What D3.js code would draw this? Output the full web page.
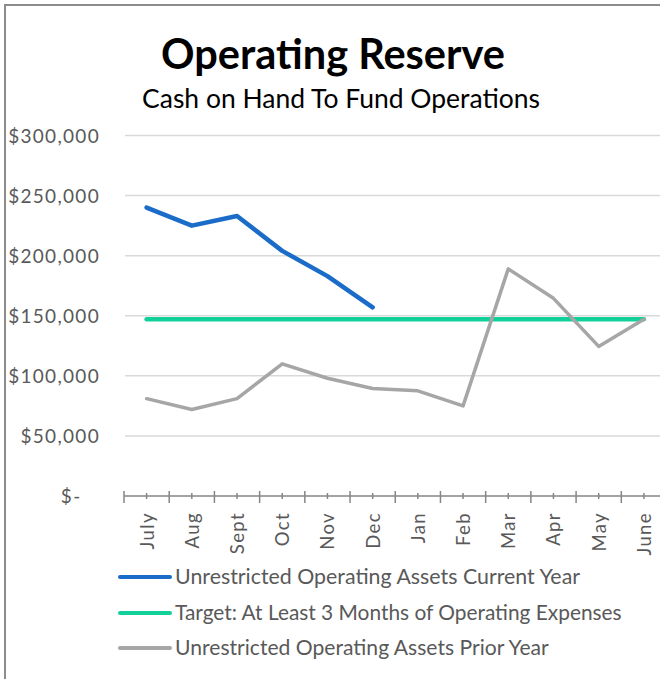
<!DOCTYPE html>
<html>
<head>
<meta charset="utf-8">
<script src="https://cdn.jsdelivr.net/npm/d3@7"></script>
<style>
  html, body { margin: 0; padding: 0; background: #fff; }
  svg { display: block; font-family: Lato, "Open Sans", sans-serif; }
</style>
</head>
<body>
<div id="chart"></div>
<script>
// Operating Reserve - monthly cash vs target

const months = ["July", "Aug", "Sept", "Oct", "Nov", "Dec", "Jan", "Feb", "Mar", "Apr", "May", "June"];
const currentYear = [240000, 225000, 233000, 204000, 183000, 157000];
const targetValues = [147000, 147000, 147000, 147000, 147000, 147000, 147000, 147000, 147000, 147000, 147000, 147000];
const priorYear = [81000, 72000, 81000, 110000, 98000, 89500, 87500, 75000, 189000, 164500, 124500, 147000];
const yTicks = [0, 50000, 100000, 150000, 200000, 250000, 300000];

const seriesNames = [
  "Unrestricted Operating Assets Current Year",
  "Target: At Least 3 Months of Operating Expenses",
  "Unrestricted Operating Assets Prior Year"
];
const seriesColors = ["#1a6cc8", "#12d09a", "#a6a6a6"];
const seriesWidths = [4.5, 4.5, 3.5];
const seriesData = [currentYear, targetValues, priorYear];

const W = 660, H = 679;
const svg = d3.select("#chart").append("svg")
  .attr("width", W)
  .attr("height", H);

// outer chart border (only top/left visible in the crop)
svg.append("rect")
  .attr("x", 5).attr("y", 5)
  .attr("width", 700).attr("height", 700)
  .attr("fill", "none")
  .attr("stroke", "#8c8c8c")
  .attr("stroke-width", 2);

// fit a text element to a given pixel width by adjusting its font size
function fitWidth(sel, target) {
  const node = sel.node();
  const size = parseFloat(sel.style("font-size"));
  const w = node.getComputedTextLength();
  sel.style("font-size", (size * target / w).toFixed(2) + "px");
}

// ----- titles -----
const title = svg.append("text")
  .attr("x", 333).attr("y", 69)
  .attr("text-anchor", "middle")
  .style("font-size", "34px")
  .style("font-weight", "700")
  .style("fill", "#000")
  .text("Operating Reserve");
fitWidth(title, 344);

const subtitle = svg.append("text")
  .attr("x", 341).attr("y", 108)
  .attr("text-anchor", "middle")
  .style("font-size", "22px")
  .style("fill", "#000")
  .text("Cash on Hand To Fund Operations");
fitWidth(subtitle, 398);

// ----- scales -----
const x = d3.scaleBand()
  .domain(months)
  .range([124, 666.5]);

const y = d3.scaleLinear()
  .domain([0, 300000])
  .range([496, 135.5]);

// gridlines
svg.append("g")
  .selectAll("line")
  .data(yTicks.filter(d => d > 0))
  .enter()
  .append("line")
  .attr("x1", 125).attr("x2", W)
  .attr("y1", d => y(d)).attr("y2", d => y(d))
  .attr("stroke", "#d9d9d9")
  .attr("stroke-width", 1.5);

// y axis labels
const fmtY = d => d === 0 ? "$-\u00a0\u00a0\u00a0" : "$" + d3.format(",")(d);
const yAxis = svg.append("g")
  .attr("transform", "translate(100,0)")
  .call(d3.axisLeft(y).tickValues(yTicks).tickFormat(fmtY).tickSize(0).tickPadding(0));
yAxis.select(".domain").remove();
yAxis.selectAll("text")
  .style("font-family", "Lato, 'Open Sans', sans-serif")
  .style("font-size", "19px")
  .style("letter-spacing", "1.3px")
  .style("fill", "#595959")
  .attr("dy", "0.35em");

// x axis line with major (between) and minor (center) ticks
const xAxisG = svg.append("g").attr("transform", `translate(0,${y(0)})`);
xAxisG.append("line")
  .attr("x1", x.range()[0]).attr("x2", W)
  .attr("stroke", "#868686").attr("stroke-width", 1.5);

xAxisG.selectAll(".major")
  .data(months)
  .enter()
  .append("line")
  .attr("class", "major")
  .attr("x1", d => x(d)).attr("x2", d => x(d))
  .attr("y1", -5).attr("y2", 7)
  .attr("stroke", "#868686").attr("stroke-width", 1.5);

xAxisG.selectAll(".minor")
  .data(months)
  .enter()
  .append("line")
  .attr("class", "minor")
  .attr("x1", d => x(d) + x.bandwidth() / 2).attr("x2", d => x(d) + x.bandwidth() / 2)
  .attr("y1", -3).attr("y2", 3)
  .attr("stroke", "#868686").attr("stroke-width", 1.5);

// month labels (rotated)
xAxisG.selectAll(".month")
  .data(months)
  .enter()
  .append("text")
  .attr("class", "month")
  .attr("transform", d => `translate(${x(d) + x.bandwidth() / 2 + 7},16) rotate(-90)`)
  .attr("text-anchor", "end")
  .style("font-size", "18.5px")
  .style("letter-spacing", "1.4px")
  .style("fill", "#595959")
  .text(d => d);

// ----- lines -----
const line = d3.line()
  .x((d, i) => x(months[i]) + x.bandwidth() / 2)
  .y(d => y(d));

// draw order: target, prior, current on top
[1, 2, 0].forEach(k => {
  svg.append("path")
    .datum(seriesData[k])
    .attr("d", line)
    .attr("fill", "none")
    .attr("stroke", seriesColors[k])
    .attr("stroke-width", seriesWidths[k])
    .attr("stroke-linejoin", "round")
    .attr("stroke-linecap", "round");
});

// ----- legend -----
const legend = svg.append("g");
const legendY = [577, 613, 648];

seriesNames.forEach((name, i) => {
  legend.append("line")
    .attr("x1", 120).attr("x2", 170)
    .attr("y1", legendY[i]).attr("y2", legendY[i])
    .attr("stroke", seriesColors[i])
    .attr("stroke-width", 4)
    .attr("stroke-linecap", "round");
});

const legendWidths = [405, 447, 374];
seriesNames.forEach((name, i) => {
  const t = legend.append("text")
    .attr("x", 175).attr("y", legendY[i])
    .attr("dy", "0.35em")
    .style("font-size", "17px")
    .style("fill", "#595959")
    .text(name);
  fitWidth(t, legendWidths[i]);
});
</script>
</body>
</html>
